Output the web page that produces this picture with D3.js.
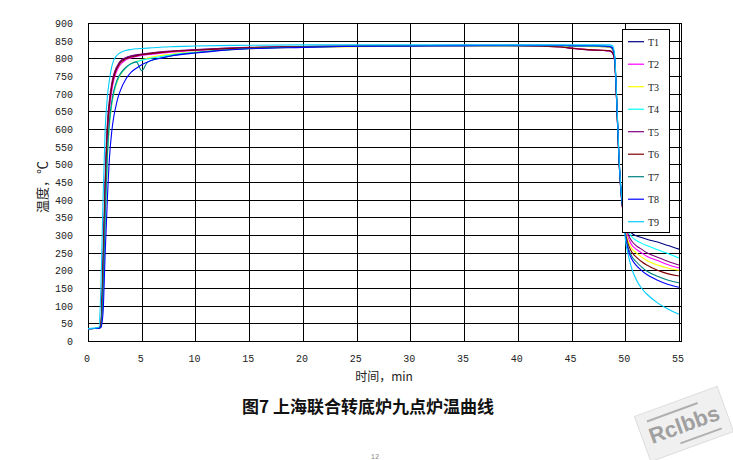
<!DOCTYPE html>
<html><head><meta charset="utf-8">
<script src="https://cdn.jsdelivr.net/npm/d3@7"></script>
<style>body{margin:0;background:#fff}svg{display:block}</style>
</head><body><svg id="c" width="733" height="460"></svg>
<script>
const seriesNames = ["T1","T2","T3","T4","T5","T6","T7","T8","T9"];
const seriesColors = ["#000080","#FF00FF","#FFFF00","#00FFFF","#800080","#800000","#008080","#0000FF","#00CCFF"];
const times = [0,1.0,1.2,1.4,1.6,1.8,2.0,2.2,2.4,2.6,2.8,3.0,3.5,4,4.5,5,5.5,6,7,8,10,12,15,20,25,30,35,40,44,45,46,47,48,48.5,48.8,49.0,49.2,49.4,49.6,49.8,50.0,50.3,50.6,51,51.5,52,53,54,55];
const xTicks = [0,5,10,15,20,25,30,35,40,45,50,55];
const yTicks = [0,50,100,150,200,250,300,350,400,450,500,550,600,650,700,750,800,850,900];
const T1 = [35,36,45,220,440,600,675,720,750,768,780,790,800,806,809,811,813,815,818,820,824,827,830,833,835,836,837,837,836,835,834,834,833,832,826,800,680,525,425,370,360,320,305,298,293,288,280,270,260];
const T2 = [35,36,42,180,400,570,655,705,738,758,772,782,795,801,805,808,810,812,815,818,822,825,829,832,834,835,836,836,833,829,826,824,822,821,816,795,675,520,420,360,320,290,272,260,250,240,228,216,207];
const T3 = [35,36,40,130,340,510,610,665,700,722,740,752,772,785,791,796,800,804,809,813,818,822,827,831,833,835,836,836,835,834,834,833,833,832,828,805,682,528,425,365,315,280,262,250,238,228,215,206,200];
const T4 = [35,37,44,140,350,520,615,668,702,725,742,754,772,784,790,795,798,801,806,811,817,822,828,832,834,835,836,836,836,836,835,835,835,834,830,808,685,530,428,368,340,310,295,285,277,270,258,247,235];
const T5 = [35,36,48,240,460,615,685,728,755,772,783,792,802,807,810,812,814,816,819,821,825,828,831,833,835,836,837,836,832,828,825,823,822,821,815,796,678,524,423,366,330,300,283,270,260,250,237,225,215];
const T6 = [35,36,46,210,430,590,670,716,746,765,777,787,798,804,807,810,812,814,817,820,823,826,830,833,835,836,836,836,832,829,826,824,823,822,817,797,676,522,421,362,310,272,252,238,225,215,200,190,184];
const T7 = [35,36,41,150,360,530,625,675,708,730,745,756,774,785,790,765,788,795,802,809,816,822,828,832,834,835,836,836,836,835,835,835,834,833,829,806,683,527,424,364,305,262,240,225,210,198,183,172,165];
const T8 = [35,36,38,80,250,400,520,590,635,665,690,708,740,760,772,782,789,795,802,808,815,821,827,831,834,835,836,837,837,836,836,836,835,834,830,807,684,529,426,366,300,255,232,215,200,188,172,160,152];
const T9 = [35,38,150,400,600,690,740,775,795,805,812,816,822,825,827,828,829,830,832,833,835,836,837,838,838,838,838,838,838,838,838,838,838,838,836,812,690,535,430,370,290,240,205,175,150,133,108,90,76];
const seriesValues = [T1,T2,T3,T4,T5,T6,T7,T8,T9];

const svg = d3.select("#c");
const x = d3.scaleLinear().domain([0,55]).range([88,679]);
const y = d3.scaleLinear().domain([0,900]).range([341,23]);
const numFont = "'Liberation Mono', monospace";
const cjkFont = "'Noto Sans CJK SC', sans-serif";

const g = svg.append("g").attr("shape-rendering","crispEdges");
g.selectAll("line.h").data(yTicks).join("line")
  .attr("x1",x(0)).attr("x2",681).attr("y1",d=>Math.round(y(d))+0.5).attr("y2",d=>Math.round(y(d))+0.5)
  .attr("stroke","#000").attr("stroke-width",1);
g.selectAll("line.v").data(xTicks).join("line")
  .attr("y1",y(900)).attr("y2",y(0)).attr("x1",d=>Math.round(x(d))+0.5).attr("x2",d=>Math.round(x(d))+0.5)
  .attr("stroke","#000").attr("stroke-width",1);
g.append("rect").attr("x",x(0)+0.5).attr("y",Math.round(y(900))+0.5)
  .attr("width",681-x(0)).attr("height",Math.round(y(0))-Math.round(y(900)))
  .attr("fill","none").attr("stroke","#000");

svg.append("g").selectAll("text").data(yTicks).join("text")
  .attr("x",73).attr("y",d=>y(d)+4).attr("text-anchor","end")
  .attr("font-family",numFont).attr("font-size",10).attr("fill","#222").text(d=>d);
svg.append("g").selectAll("text").data(xTicks).join("text")
  .attr("x",d=>x(d)-1).attr("y",362).attr("text-anchor","middle")
  .attr("font-family",numFont).attr("font-size",10).attr("fill","#222").text(d=>d);

svg.append("text").attr("x",384).attr("y",381).attr("text-anchor","middle")
  .attr("font-family",cjkFont).attr("font-size",12).attr("fill","#222").text("时间，min");
svg.append("text").attr("transform","translate(47,187) rotate(-90)").attr("text-anchor","middle")
  .attr("font-family",cjkFont).attr("font-size",13).attr("fill","#222").text("温度，℃");

const line = d3.line().x(d=>x(d[0])).y(d=>y(d[1])).curve(d3.curveMonotoneX);
svg.append("g").selectAll("path").data(seriesValues).join("path")
  .attr("d",vals=>line(times.map((t,i)=>[t,vals[i]])))
  .attr("fill","none").attr("stroke",(d,i)=>seriesColors[i]).attr("stroke-width",1.1);

const lg = svg.append("g");
lg.append("rect").attr("x",622.5).attr("y",29.5).attr("width",47).attr("height",203)
  .attr("fill","#fff").attr("stroke","#000").attr("shape-rendering","crispEdges");
const items = lg.selectAll("g").data(seriesNames).join("g")
  .attr("transform",(d,i)=>`translate(0,${41.7+22.5*i})`);
items.append("line").attr("x1",628).attr("x2",644).attr("y1",0).attr("y2",0)
  .attr("stroke",(d,i)=>seriesColors[i]).attr("stroke-width",1.2);
items.append("text").attr("x",648).attr("y",4).attr("font-family","'Liberation Serif', serif")
  .attr("font-size",10).attr("fill","#222").text(d=>d);

svg.append("text").attr("x",368).attr("y",413).attr("text-anchor","middle")
  .attr("font-family",cjkFont).attr("font-weight","bold").attr("font-size",17).attr("fill","#111")
  .text("图7 上海联合转底炉九点炉温曲线");

const wm = svg.append("g").attr("transform","translate(684,424) rotate(-20)");
wm.append("rect").attr("x",-44).attr("y",-24).attr("width",88).attr("height",48).attr("fill","#f0f0f0").attr("stroke","#dddddd");
wm.append("text").attr("x",0).attr("y",8).attr("text-anchor","middle").attr("font-family","'Liberation Sans', sans-serif")
  .attr("font-weight","bold").attr("font-size",22).attr("fill","#a0a0a0").text("Rclbbs");
wm.append("line").attr("x1",-34).attr("x2",20).attr("y1",-15).attr("y2",-15).attr("stroke","#b0b0b0").attr("stroke-width",2);
wm.append("line").attr("x1",-10).attr("x2",34).attr("y1",17).attr("y2",17).attr("stroke","#b0b0b0").attr("stroke-width",2);

svg.append("text").attr("x",375).attr("y",459).attr("text-anchor","middle").attr("font-family",numFont)
  .attr("font-size",7).attr("fill","#888").text("12");
</script></body></html>
